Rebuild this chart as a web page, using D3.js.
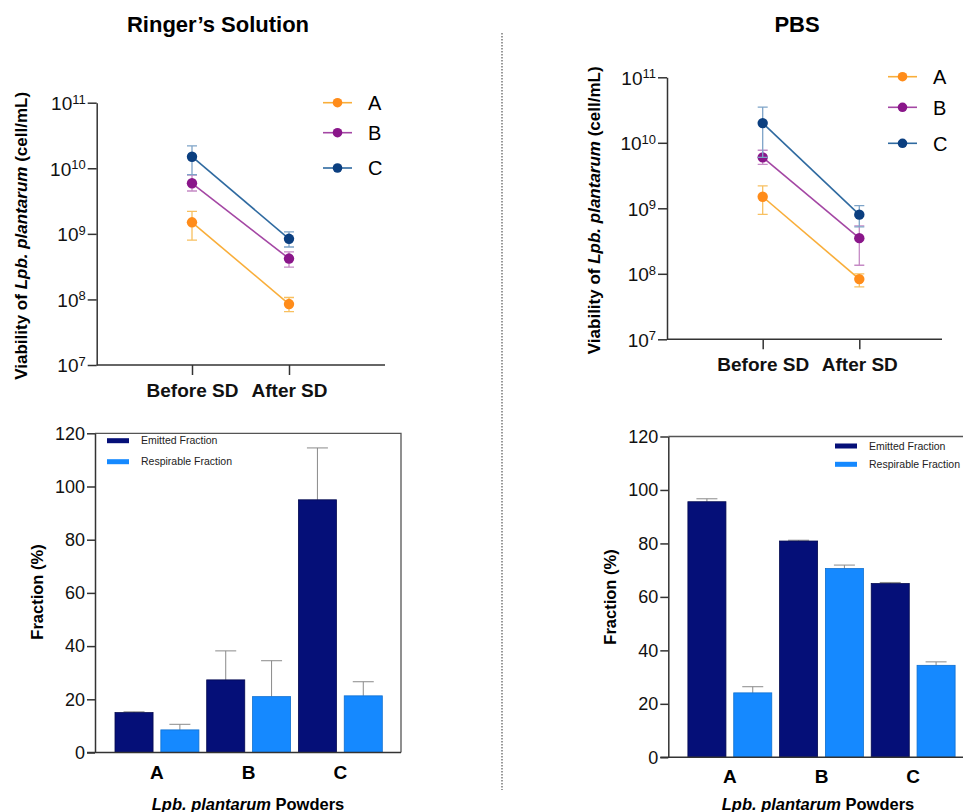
<!DOCTYPE html>
<html>
<head>
<meta charset="utf-8">
<script src="https://cdn.jsdelivr.net/npm/d3@7"></script>
<style>
  body { margin: 0; background: #fff; }
  svg { font-family: "Liberation Sans", Arial, sans-serif; }
</style>
</head>
<body>
<svg id="chart" width="963" height="812"></svg>
<script>
// data
const groups = ["A", "B", "C"];
const timepoints = ["Before SD", "After SD"];
const logTicks = [1e7, 1e8, 1e9, 1e10, 1e11];

// viability, rows A,B,C ; cols before/after spray drying
const ringerMean = [[1.5e9, 8.5e7], [5.9e9, 4.2e8], [1.5e10, 8.4e8]];
const ringerLow  = [[8.0e8, 6.5e7], [4.5e9, 3.1e8], [8.0e9, 6.3e8]];
const ringerHigh = [[2.2e9, 1.07e8], [7.9e9, 5.3e8], [2.2e10, 1.07e9]];

const pbsMean = [[1.5e9, 8.3e7], [6.0e9, 3.5e8], [2.0e10, 8.0e8]];
const pbsLow  = [[8.1e8, 6.3e7], [4.7e9, 1.35e8], [6.0e9, 5.2e8]];
const pbsHigh = [[2.2e9, 1.0e8], [7.7e9, 5.4e8], [3.5e10, 1.1e9]];

const fractionSeries = ["Emitted Fraction", "Respirable Fraction"];
const fracTicks = [0, 20, 40, 60, 80, 100, 120];
const ringerEmitted = [15.0, 27.3, 95.0];
const ringerEmittedSD = [0.3, 10.9, 19.5];
const ringerRespirable = [8.5, 21.0, 21.3];
const ringerRespirableSD = [2.1, 13.5, 5.3];
const pbsEmitted = [95.6, 80.9, 65.0];
const pbsEmittedSD = [1.1, 0.3, 0.4];
const pbsRespirable = [24.1, 70.6, 34.4];
const pbsRespirableSD = [2.3, 1.3, 1.3];

const markerColor = {A: "#ff8c1a", B: "#8a168a", C: "#0b3f80"};
const lineColor = {A: "#f9ae3a", B: "#a447a4", C: "#2f6aa0"};
const errColor = {A: "#f8c060", B: "#c58ac5", C: "#7ea4c8"};
const barColor = {"Emitted Fraction": "#050f78", "Respirable Fraction": "#1589ff"};
const barStroke = {"Emitted Fraction": "#03094f", "Respirable Fraction": "#0e6fd0"};

const svg = d3.select("#chart");
const axisCol = "#333";

function styleAxis(g) {
  g.selectAll("path, line").attr("stroke", axisCol).attr("stroke-width", 1.5);
}

// title + viability line chart
function drawViability(cfg) {
  const y = d3.scaleLog().domain([1e7, 1e11]).range([cfg.bottom, cfg.top]);
  const x = d3.scalePoint().domain(timepoints).range(cfg.xPts);

  svg.append("text")
    .attr("x", cfg.titleX).attr("y", 32)
    .attr("text-anchor", "middle")
    .style("font-size", "22px").style("font-weight", "bold")
    .text(cfg.title);

  // y axis
  const ya = svg.append("g")
    .attr("transform", `translate(${cfg.left},0)`)
    .call(d3.axisLeft(y).tickValues(logTicks).tickFormat("").tickSize(9).tickSizeOuter(0));
  styleAxis(ya);
  ya.selectAll(".tick").append("text")
    .attr("x", -11).attr("dy", "0.36em")
    .attr("text-anchor", "end")
    .attr("fill", "#111")
    .style("font-size", "19px")
    .each(function(d) {
      const t = d3.select(this);
      t.append("tspan").text("10");
      t.append("tspan").attr("dy", "-0.5em").style("font-size", "13px").text(Math.round(Math.log10(d)));
    });

  // x axis
  const xa = svg.append("g")
    .attr("transform", `translate(0,${cfg.bottom})`)
    .call(d3.axisBottom(x).tickSize(10).tickSizeOuter(0).tickFormat(""));
  xa.select(".domain").attr("d", `M${cfg.left},0H${cfg.right}`);
  styleAxis(xa);
  xa.selectAll(".tick").append("text")
    .attr("y", 32).attr("text-anchor", "middle")
    .attr("fill", "#111")
    .style("font-size", "19px").style("font-weight", "bold")
    .text(d => d);

  // y label
  const yl = svg.append("text")
    .attr("transform", `translate(${cfg.ylabX},${(cfg.top + cfg.bottom) / 2 + 2}) rotate(-90)`)
    .attr("text-anchor", "middle")
    .style("font-size", "17px").style("font-weight", "bold");
  yl.append("tspan").text("Viability of ");
  yl.append("tspan").style("font-style", "italic").text("Lpb. plantarum");
  yl.append("tspan").text(" (cell/mL)");

  const line = d3.line().x(d => x(d.t)).y(d => y(d.v));

  groups.forEach((gname, gi) => {
    const pts = timepoints.map((t, ti) => ({
      t, v: cfg.mean[gi][ti], lo: cfg.low[gi][ti], hi: cfg.high[gi][ti]
    }));
    const g = svg.append("g");
    // error bars
    pts.forEach(p => {
      const cx = x(p.t);
      g.append("path")
        .attr("d", `M${cx},${y(p.lo)}V${y(p.hi)}M${cx - 5},${y(p.hi)}H${cx + 5}M${cx - 5},${y(p.lo)}H${cx + 5}`)
        .attr("stroke", errColor[gname]).attr("stroke-width", 1.3).attr("fill", "none");
    });
    g.append("path").datum(pts)
      .attr("d", line)
      .attr("stroke", lineColor[gname]).attr("stroke-width", 1.6).attr("fill", "none");
    g.selectAll("circle").data(pts).enter().append("circle")
      .attr("cx", d => x(d.t)).attr("cy", d => y(d.v)).attr("r", 5.2)
      .attr("fill", markerColor[gname]);
  });

  // legend
  groups.forEach((gname, gi) => {
    const ly = cfg.legY[gi];
    svg.append("line")
      .attr("x1", cfg.legX).attr("x2", cfg.legX + 29).attr("y1", ly).attr("y2", ly)
      .attr("stroke", lineColor[gname]).attr("stroke-width", 1.6);
    svg.append("circle")
      .attr("cx", cfg.legX + 14.5).attr("cy", ly).attr("r", 4.8)
      .attr("fill", markerColor[gname]);
    svg.append("text")
      .attr("x", cfg.legX + 45).attr("y", ly).attr("dy", "0.36em")
      .style("font-size", "20px")
      .text(gname);
  });
}

// grouped bar chart of emitted / respirable fraction
function drawFraction(cfg) {
  const y = d3.scaleLinear().domain([0, 120]).range([cfg.bottom, cfg.top]);
  const x0 = d3.scaleBand().domain(groups).range(cfg.barRange);
  const x1 = d3.scaleBand().domain(fractionSeries).range([0, x0.bandwidth()])
    .paddingInner(0.17).paddingOuter(0.085);

  // frame on top and right
  svg.append("path")
    .attr("d", `M${cfg.left},${cfg.top}H${cfg.right}V${cfg.bottom}`)
    .attr("stroke", "#555").attr("stroke-width", 1.3).attr("fill", "none");

  const rows = groups.map((gname, i) => ({
    g: gname,
    vals: [
      {s: fractionSeries[0], v: cfg.emitted[i], sd: cfg.emittedSD[i]},
      {s: fractionSeries[1], v: cfg.respirable[i], sd: cfg.respirableSD[i]}
    ]
  }));

  const grp = svg.selectAll(null).data(rows).enter().append("g")
    .attr("transform", d => `translate(${x0(d.g)},0)`);

  // error bars (upper only)
  grp.selectAll("path.err").data(d => d.vals).enter().append("path")
    .attr("class", "err")
    .attr("d", d => {
      const cx = x1(d.s) + x1.bandwidth() / 2;
      const top = y(d.v + d.sd);
      return `M${cx},${y(d.v)}V${top}M${cx - 10.5},${top}H${cx + 10.5}`;
    })
    .attr("stroke", "#8a8a8a").attr("stroke-width", 1).attr("fill", "none");

  grp.selectAll("rect").data(d => d.vals).enter().append("rect")
    .attr("x", d => x1(d.s))
    .attr("width", x1.bandwidth())
    .attr("y", d => y(d.v))
    .attr("height", d => y(0) - y(d.v))
    .attr("fill", d => barColor[d.s])
    .attr("stroke", d => barStroke[d.s]).attr("stroke-width", 0.8);

  // axes
  const ya = svg.append("g")
    .attr("transform", `translate(${cfg.left},0)`)
    .call(d3.axisLeft(y).tickValues(fracTicks).tickSize(8).tickSizeOuter(0));
  styleAxis(ya);
  ya.selectAll("text").attr("fill", "#111").style("font-size", "18px").attr("x", -10);

  svg.append("line")
    .attr("x1", cfg.left - 8).attr("x2", cfg.right)
    .attr("y1", cfg.bottom).attr("y2", cfg.bottom)
    .attr("stroke", axisCol).attr("stroke-width", 1.5);

  svg.selectAll(null).data(groups).enter().append("text")
    .attr("x", d => x0(d) + x0.bandwidth() / 2)
    .attr("y", cfg.bottom + 26)
    .attr("text-anchor", "middle")
    .style("font-size", "19px").style("font-weight", "bold")
    .text(d => d);

  const xt = svg.append("text")
    .attr("x", cfg.xTitleX).attr("y", 810)
    .attr("text-anchor", "middle")
    .style("font-size", "16.5px").style("font-weight", "bold");
  xt.append("tspan").style("font-style", "italic").text("Lpb. plantarum");
  xt.append("tspan").text(" Powders");

  svg.append("text")
    .attr("transform", `translate(${cfg.ylabX},${cfg.ylabY}) rotate(-90)`)
    .attr("text-anchor", "middle")
    .style("font-size", "16.5px").style("font-weight", "bold")
    .text("Fraction (%)");

  // legend
  fractionSeries.forEach((s, i) => {
    const ly = cfg.legY[i];
    svg.append("rect")
      .attr("x", cfg.legX).attr("y", ly - 2.5).attr("width", 22).attr("height", 5)
      .attr("fill", barColor[s]);
    svg.append("text")
      .attr("x", cfg.legX + 34).attr("y", ly).attr("dy", "0.35em")
      .style("font-size", "10.5px").attr("fill", "#222")
      .text(s);
  });
}

drawViability({
  title: "Ringer’s Solution", titleX: 218,
  left: 96.7, right: 385, top: 102.7, bottom: 365,
  xPts: [192, 289], ylabX: 27,
  mean: ringerMean, low: ringerLow, high: ringerHigh,
  legX: 323, legY: [102.7, 132.7, 168]
});

drawViability({
  title: "PBS", titleX: 797,
  left: 667, right: 942, top: 77.3, bottom: 339.3,
  xPts: [762.7, 859.3], ylabX: 600,
  mean: pbsMean, low: pbsLow, high: pbsHigh,
  legX: 888, legY: [76.7, 107.3, 143.3]
});

drawFraction({
  left: 95, right: 401, top: 433.3, bottom: 752.5,
  barRange: [111.1, 386.2],
  emitted: ringerEmitted, emittedSD: ringerEmittedSD,
  respirable: ringerRespirable, respirableSD: ringerRespirableSD,
  xTitleX: 248, ylabX: 43, ylabY: 592,
  legX: 107, legY: [440.7, 461.7]
});

drawFraction({
  left: 668.3, right: 980, top: 436.5, bottom: 757.3,
  barRange: [684, 959],
  emitted: pbsEmitted, emittedSD: pbsEmittedSD,
  respirable: pbsRespirable, respirableSD: pbsRespirableSD,
  xTitleX: 818, ylabX: 616, ylabY: 597,
  legX: 835, legY: [446, 464.3]
});

// dotted separator between the two solutions
svg.append("line")
  .attr("x1", 502).attr("x2", 502).attr("y1", 33).attr("y2", 790)
  .attr("stroke", "#555").attr("stroke-width", 1.2)
  .attr("stroke-dasharray", "1.5,1.5");
</script>
</body>
</html>
